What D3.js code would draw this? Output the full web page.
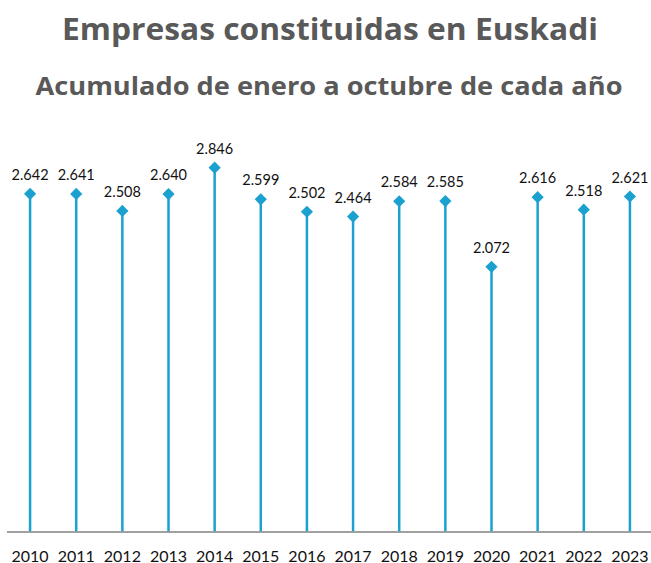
<!DOCTYPE html>
<html><head><meta charset="utf-8">
<script src="https://cdn.jsdelivr.net/npm/d3@7"></script>
<style>body{margin:0;background:#fff}svg{display:block}</style>
</head><body><svg id="c" width="651" height="563"></svg>
<script>
const years = ["2010","2011","2012","2013","2014","2015","2016","2017","2018","2019","2020","2021","2022","2023"];
const values = [2642,2641,2508,2640,2846,2599,2502,2464,2584,2585,2072,2616,2518,2621];
const labels = ["2.642","2.641","2.508","2.640","2.846","2.599","2.502","2.464","2.584","2.585","2.072","2.616","2.518","2.621"];
const title = "Empresas constituidas en Euskadi";
const subtitle = "Acumulado de enero a octubre de cada año";

const svg = d3.select("#c");
const tfont = "'Open Sans', 'Noto Sans', sans-serif";
const font = "Lato, 'Open Sans', sans-serif";
const color = "#1ba1cf";
const x = d3.scaleBand().domain(years).range([7, 653]).padding(0);
const y = d3.scaleLinear().domain([0, 3000]).range([532, 148]);

svg.append("text").attr("x", 330).attr("y", 40).attr("text-anchor","middle")
  .attr("font-family", tfont).attr("font-weight","bold").attr("font-size", 29.5)
  .attr("fill","#595959").attr("textLength", 536).attr("lengthAdjust","spacingAndGlyphs").text(title);
svg.append("text").attr("x", 329).attr("y", 95).attr("text-anchor","middle")
  .attr("font-family", tfont).attr("font-weight","bold").attr("font-size", 25)
  .attr("fill","#595959").attr("textLength", 587).attr("lengthAdjust","spacingAndGlyphs").text(subtitle);

const xAxis = svg.append("g").attr("transform","translate(0,532)")
  .call(d3.axisBottom(x).tickSize(0).tickPadding(0));
xAxis.select(".domain").attr("stroke","#808080").attr("stroke-width",1.5).attr("d","M7,0H651");
xAxis.selectAll("text").attr("font-family", font).attr("font-size", 16).attr("fill","#111")
  .attr("dy", null).attr("y", 29.5);

const g = svg.append("g");
years.forEach((yr,i)=>{
  const cx = x(yr) + x.bandwidth()/2, cy = y(values[i]);
  g.append("line").attr("x1",cx).attr("x2",cx).attr("y1",cy).attr("y2",y(0)-0.75)
    .attr("stroke",color).attr("stroke-width",2.5);
  g.append("path").attr("d", d3.symbol(d3.symbolDiamond2, 95)())
    .attr("transform",`translate(${cx},${cy})`).attr("fill",color);
  g.append("text").attr("x",cx).attr("y",cy-14).attr("text-anchor","middle")
    .attr("font-family",font).attr("font-size",14.5).attr("fill","#111").text(labels[i]);
});
</script></body></html>
